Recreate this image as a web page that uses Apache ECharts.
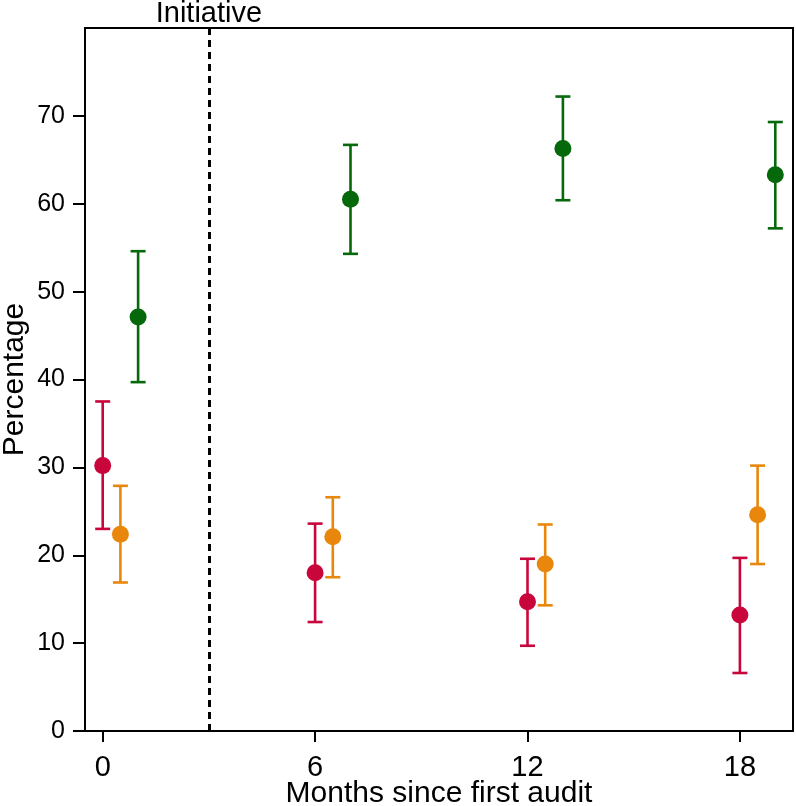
<!DOCTYPE html>
<html>
<head>
<meta charset="utf-8">
<script src="https://cdn.jsdelivr.net/npm/echarts@6/dist/echarts.min.js"></script>
<style>
html,body{margin:0;padding:0;background:#fff;}
#chart{width:796px;height:806px;}
</style>
</head>
<body>
<div id="chart"></div>
<script>
// ---- Data ----
const months = [0, 6, 12, 18];
const xTicks = [0, 6, 12, 18];
const yTicks = [0, 10, 20, 30, 40, 50, 60, 70];
const initiativeMonth = 3;

const redMean  = [30.2, 18.0, 14.7, 13.2];
const redLow   = [23.0, 12.4, 9.7, 6.6];
const redHigh  = [37.5, 23.6, 19.6, 19.7];

const orangeMean = [22.4, 22.1, 19.0, 24.6];
const orangeLow  = [16.9, 17.5, 14.3, 19.0];
const orangeHigh = [27.9, 26.6, 23.5, 30.2];

const greenMean = [47.1, 60.5, 66.3, 63.3];
const greenLow  = [39.7, 54.3, 60.4, 57.2];
const greenHigh = [54.6, 66.7, 72.2, 69.3];

// ---- Styling ----
const FONT = '"Liberation Sans", Arial, Helvetica, sans-serif';
const groups = [
  {name: 'red',    color: '#c8063c', offset: 0,   mean: redMean,    low: redLow,    high: redHigh},
  {name: 'orange', color: '#e8870c', offset: 0.5, mean: orangeMean, low: orangeLow, high: orangeHigh},
  {name: 'green',  color: '#05680a', offset: 1,   mean: greenMean,  low: greenLow,  high: greenHigh}
];

const series = [];
groups.forEach(function (g) {
  const errData = months.map(function (m, i) { return [m + g.offset, g.low[i], g.high[i]]; });
  series.push({
    type: 'custom',
    name: g.name + ' CI',
    data: errData,
    encode: {x: 0, y: [1, 2]},
    z: 2,
    renderItem: function (params, api) {
      const x = api.value(0);
      const lo = api.coord([x, api.value(1)]);
      const hi = api.coord([x, api.value(2)]);
      const half = 7.5;
      const style = {stroke: g.color, lineWidth: 2.6, fill: null};
      return {
        type: 'group',
        children: [
          {type: 'line', shape: {x1: lo[0], y1: lo[1], x2: hi[0], y2: hi[1]}, style: style},
          {type: 'line', shape: {x1: lo[0] - half, y1: lo[1], x2: lo[0] + half, y2: lo[1]}, style: style},
          {type: 'line', shape: {x1: hi[0] - half, y1: hi[1], x2: hi[0] + half, y2: hi[1]}, style: style}
        ]
      };
    }
  });
  series.push({
    type: 'scatter',
    name: g.name,
    data: months.map(function (m, i) { return [m + g.offset, g.mean[i]]; }),
    symbol: 'circle',
    symbolSize: 17,
    itemStyle: {color: g.color, opacity: 1},
    z: 3
  });
});

// Initiative dashed line
series.push({
  type: 'scatter',
  name: 'initiative',
  data: [],
  markLine: {
    silent: true,
    symbol: ['none', 'none'],
    animation: false,
    lineStyle: {color: '#000', type: [7, 5], width: 3},
    label: {
      show: true,
      position: 'end',
      formatter: 'Initiative',
      fontFamily: FONT,
      fontSize: 29,
      color: '#000',
      distance: 0
    },
    data: [{xAxis: initiativeMonth}]
  }
});

const chart = echarts.init(document.getElementById('chart'), null, {renderer: 'canvas'});
chart.setOption({
  animation: false,
  backgroundColor: '#fff',
  grid: {
    left: 85, right: 3, top: 28, bottom: 75,
    containLabel: false,
    outerBoundsMode: 'none',
    show: true, borderColor: '#000', borderWidth: 2, backgroundColor: 'transparent'
  },
  xAxis: {
    type: 'value',
    min: -0.5, max: 19.5,
    name: 'Months since first audit',
    nameLocation: 'middle',
    nameGap: 48,
    nameMoveOverlap: false,
    nameTextStyle: {fontFamily: FONT, fontSize: 30, color: '#000'},
    axisLine: {show: true, onZero: false, lineStyle: {color: '#000', width: 2}},
    axisTick: {show: true, length: 11, customValues: xTicks, lineStyle: {color: '#000', width: 2}},
    axisLabel: {customValues: xTicks, fontFamily: FONT, fontSize: 29, color: '#000', margin: 22},
    splitLine: {show: false}
  },
  yAxis: {
    type: 'value',
    min: 0, max: 80,
    name: 'Percentage',
    nameLocation: 'middle',
    nameGap: 55,
    nameMoveOverlap: false,
    nameTextStyle: {fontFamily: FONT, fontSize: 30, color: '#000'},
    axisLine: {show: true, onZero: false, lineStyle: {color: '#000', width: 2}},
    axisTick: {show: true, length: 12, customValues: yTicks, lineStyle: {color: '#000', width: 2}},
    axisLabel: {customValues: yTicks, fontFamily: FONT, fontSize: 25, color: '#000', margin: 20},
    splitLine: {show: false}
  },
  series: series
});
</script>
</body>
</html>
